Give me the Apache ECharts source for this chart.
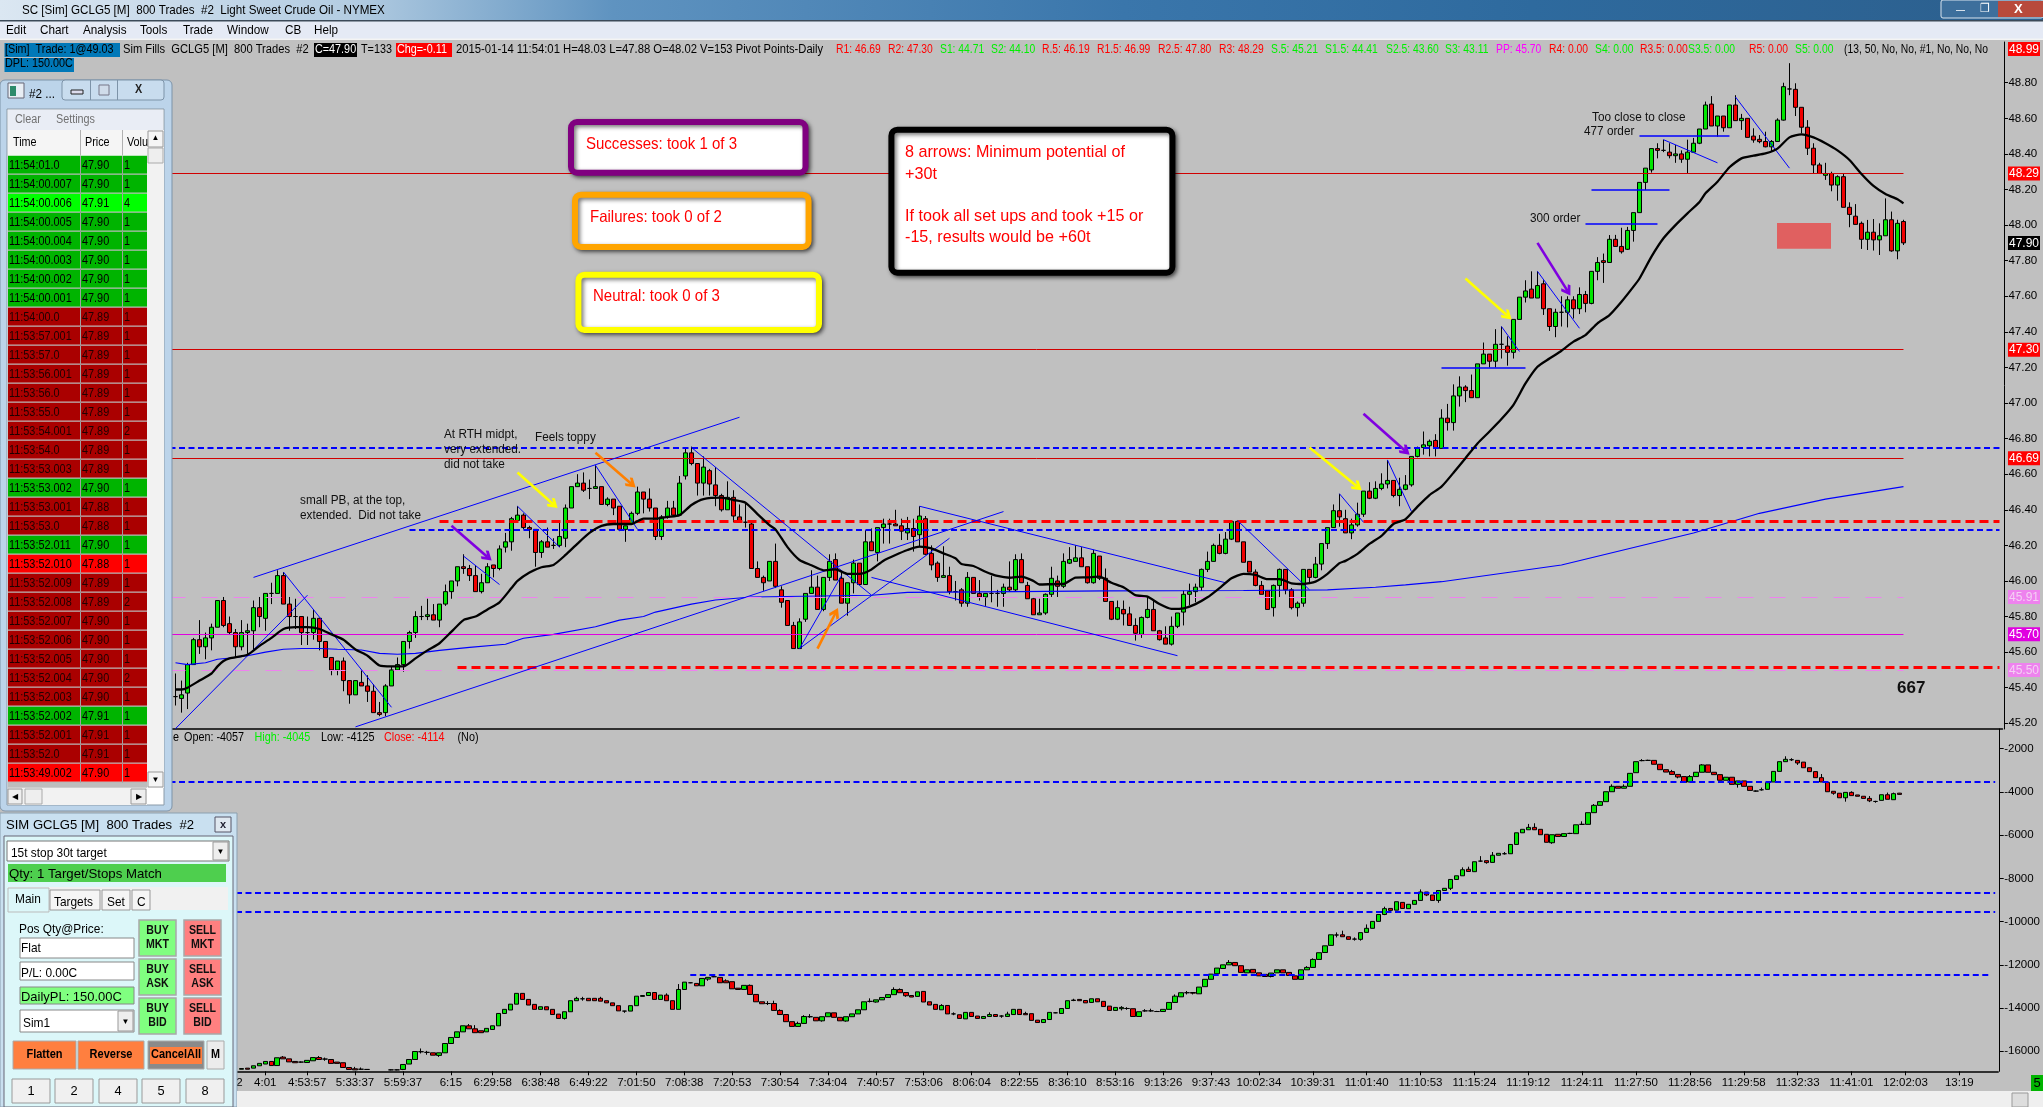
<!DOCTYPE html>
<html><head><meta charset="utf-8"><style>html,body{margin:0;padding:0;background:#c0c0c0;overflow:hidden}#c{width:2043px;height:1107px}</style>
<script src="https://cdn.jsdelivr.net/npm/echarts@6/dist/echarts.min.js"></script></head><body><div id="c"></div><script>
// ---- values ----
const tickIdx=[8,15,22,30,38,46,53,61,69,77,85,93,101,109,117,125,133,141,149,157,165,173,181,190,199,208,217,226,235,244,253,262,271,280,289,298];
const tickLabels=["3:42:12","4:01","4:53:57","5:33:37","5:59:37","6:15","6:29:58","6:38:48","6:49:22","7:01:50","7:08:38","7:20:53","7:30:54","7:34:04","7:40:57","7:53:06","8:06:04","8:22:55","8:36:10","8:53:16","9:13:26","9:37:43","10:02:34","10:39:31","11:01:40","11:10:53","11:15:24","11:19:12","11:24:11","11:27:50","11:28:56","11:29:58","11:32:33","11:41:01","12:02:03","13:19"];
const priceTicks=[45.2,45.4,45.6,45.8,46,46.2,46.4,46.6,46.8,47,47.2,47.4,47.6,47.8,48,48.2,48.4,48.6,48.8];
const pnlTicks=[-2000,-4000,-6000,-8000,-10000,-12000,-14000,-16000];
const priceTags=[48.99,48.29,47.90,47.30,46.69,45.91,45.70,45.50];
// rows: open, close, high, low
const priceBars=[
[45.35,45.35,45.48,45.30],[45.34,45.36,45.44,45.26],[45.37,45.53,45.54,45.28],[45.53,45.67,45.68,45.53],[45.67,45.63,45.78,45.59],[45.63,45.68,45.71,45.56],[45.68,45.74,45.76,45.61],[45.74,45.89,45.89,45.74],[45.89,45.75,45.91,45.74],[45.76,45.71,45.80,45.70],
[45.71,45.63,45.73,45.57],[45.63,45.71,45.78,45.61],[45.71,45.72,45.76,45.59],[45.72,45.85,45.89,45.61],[45.85,45.80,45.91,45.74],[45.79,45.93,45.93,45.72],[45.93,45.93,45.99,45.87],[45.93,46.03,46.06,45.93],[46.03,45.87,46.05,45.87],[45.87,45.80,45.91,45.72],
[45.80,45.80,45.90,45.73],[45.80,45.71,45.80,45.64],[45.71,45.71,45.80,45.64],[45.71,45.79,45.84,45.67],[45.79,45.66,45.79,45.61],[45.66,45.57,45.66,45.57],[45.57,45.50,45.57,45.47],[45.50,45.55,45.55,45.47],[45.55,45.44,45.57,45.38],[45.44,45.36,45.44,45.31],
[45.36,45.44,45.44,45.36],[45.43,45.41,45.50,45.41],[45.41,45.38,45.47,45.32],[45.38,45.26,45.42,45.26],[45.26,45.25,45.32,45.24],[45.26,45.41,45.42,45.24],[45.41,45.50,45.52,45.41],[45.50,45.53,45.57,45.50],[45.53,45.66,45.66,45.49],[45.66,45.71,45.72,45.62],
[45.71,45.80,45.83,45.68],[45.80,45.80,45.86,45.78],[45.80,45.81,45.90,45.78],[45.81,45.78,45.87,45.78],[45.78,45.87,45.87,45.74],[45.87,45.94,45.98,45.86],[45.94,46.00,46.00,45.90],[46.00,46.08,46.08,45.97],[46.08,46.07,46.15,46.04],[46.07,46.03,46.09,46.00],
[46.03,45.94,46.09,45.94],[45.94,45.99,46.04,45.93],[45.99,46.08,46.10,45.99],[46.09,46.07,46.09,46.02],[46.07,46.18,46.20,46.06],[46.19,46.22,46.27,46.16],[46.22,46.35,46.36,46.17],[46.34,46.37,46.42,46.34],[46.37,46.30,46.38,46.29],[46.30,46.29,46.31,46.24],
[46.29,46.16,46.29,46.08],[46.16,46.22,46.23,46.13],[46.22,46.19,46.30,46.19],[46.20,46.20,46.24,46.18],[46.20,46.25,46.33,46.19],[46.24,46.41,46.43,46.19],[46.41,46.53,46.53,46.41],[46.53,46.55,46.60,46.53],[46.55,46.51,46.61,46.50],[46.52,46.52,46.57,46.46],
[46.52,46.53,46.65,46.52],[46.53,46.43,46.53,46.43],[46.43,46.46,46.47,46.42],[46.46,46.41,46.46,46.37],[46.42,46.29,46.42,46.28],[46.29,46.31,46.31,46.22],[46.32,46.38,46.39,46.32],[46.38,46.50,46.53,46.37],[46.50,46.46,46.50,46.38],[46.46,46.41,46.52,46.39],
[46.41,46.25,46.41,46.23],[46.25,46.36,46.37,46.23],[46.36,46.41,46.45,46.35],[46.41,46.37,46.45,46.37],[46.37,46.55,46.59,46.37],[46.59,46.72,46.745,46.57],[46.72,46.66,46.755,46.65],[46.66,46.55,46.66,46.48],[46.55,46.64,46.70,46.48],[46.62,46.545,46.63,46.48],
[46.54,46.48,46.64,46.42],[46.48,46.40,46.49,46.39],[46.40,46.47,46.56,46.40],[46.47,46.365,46.51,46.33],[46.36,46.33,46.43,46.33],[46.33,46.33,46.44,46.30],[46.32,46.07,46.34,46.07],[46.07,46.02,46.11,46.02],[46.02,45.99,46.03,45.945],[46.00,46.11,46.11,46.00],
[46.11,45.97,46.21,45.96],[45.95,45.88,45.97,45.85],[45.89,45.75,45.89,45.75],[45.75,45.62,45.77,45.62],[45.62,45.77,45.79,45.62],[45.785,45.93,45.93,45.77],[45.93,45.965,46.06,45.93],[45.965,45.84,46.03,45.84],[45.84,46.02,46.02,45.83],[46.02,46.11,46.15,46.00],
[46.12,46.005,46.155,46.005],[46.015,45.875,46.05,45.875],[45.875,45.99,45.99,45.805],[45.99,46.10,46.12,45.93],[46.10,45.98,46.10,45.98],[45.98,46.22,46.285,45.98],[46.22,46.17,46.295,46.17],[46.16,46.30,46.30,46.11],[46.30,46.32,46.35,46.21],[46.32,46.32,46.35,46.21],
[46.32,46.31,46.40,46.31],[46.31,46.28,46.35,46.23],[46.27,46.295,46.36,46.23],[46.295,46.25,46.35,46.165],[46.26,46.365,46.42,46.19],[46.35,46.15,46.365,46.145],[46.155,46.09,46.20,46.06],[46.10,46.02,46.11,45.995],[46.02,46.03,46.195,46.02],[46.03,45.94,46.08,45.925],
[45.94,45.94,46.00,45.89],[45.95,45.875,45.96,45.855],[45.875,46.02,46.05,45.855],[46.02,45.93,46.02,45.93],[45.93,45.91,46.005,45.89],[45.91,45.93,45.93,45.86],[45.93,45.93,46.03,45.88],[45.93,45.93,45.95,45.855],[45.93,45.965,45.985,45.855],[45.965,45.95,46.11,45.94],
[45.95,46.12,46.15,45.94],[46.12,45.99,46.155,45.99],[45.975,45.90,45.995,45.90],[45.90,45.81,45.905,45.81],[45.81,45.82,45.90,45.81],[45.82,45.925,45.93,45.81],[45.925,46.015,46.08,45.91],[46.00,45.97,46.03,45.91],[45.97,46.11,46.155,45.96],[46.10,46.12,46.19,46.095],
[46.11,46.13,46.20,46.11],[46.13,46.08,46.19,46.08],[46.08,45.99,46.08,45.985],[45.99,46.155,46.175,45.985],[46.14,46.015,46.14,46.005],[46.015,45.885,46.07,45.885],[45.885,45.785,45.885,45.78],[45.785,45.85,45.89,45.78],[45.84,45.815,45.89,45.75],[45.815,45.75,45.855,45.75],
[45.75,45.706,45.79,45.665],[45.70,45.795,45.80,45.68],[45.795,45.84,45.91,45.79],[45.84,45.72,45.89,45.72],[45.72,45.67,45.725,45.665],[45.68,45.645,45.745,45.645],[45.645,45.745,45.80,45.637],[45.745,45.82,45.82,45.735],[45.825,45.925,45.945,45.75],[45.925,45.94,45.985,45.865],
[45.94,45.965,45.985,45.88],[45.965,46.065,46.07,45.945],[46.065,46.11,46.165,46.05],[46.11,46.20,46.21,46.11],[46.20,46.155,46.265,46.15],[46.155,46.235,46.275,46.15],[46.235,46.335,46.34,46.23],[46.335,46.22,46.34,46.22],[46.22,46.105,46.22,46.105],[46.11,46.05,46.11,46.05],
[46.05,45.975,46.065,45.97],[45.975,45.925,46.00,45.925],[45.945,45.84,45.945,45.84],[45.85,45.975,45.98,45.80],[45.975,46.065,46.07,45.91],[46.065,45.95,46.065,45.925],[45.95,45.85,45.96,45.84],[45.85,45.875,45.885,45.80],[45.875,46.065,46.065,45.855],[46.065,46.02,46.065,45.99],
[46.02,46.095,46.135,46.015],[46.095,46.21,46.21,46.06],[46.21,46.30,46.30,46.18],[46.30,46.395,46.43,46.30],[46.395,46.36,46.49,46.305],[46.35,46.27,46.40,46.27],[46.27,46.315,46.35,46.235],[46.315,46.375,46.44,46.305],[46.375,46.505,46.505,46.36],[46.505,46.465,46.555,46.46],
[46.465,46.52,46.56,46.46],[46.52,46.545,46.605,46.51],[46.545,46.565,46.68,46.52],[46.565,46.48,46.565,46.47],[46.48,46.515,46.58,46.42],[46.515,46.54,46.595,46.51],[46.54,46.70,46.70,46.53],[46.70,46.75,46.755,46.695],[46.75,46.765,46.84,46.71],[46.76,46.785,46.795,46.70],
[46.79,46.75,46.825,46.70],[46.745,46.915,46.965,46.745],[46.915,46.89,46.995,46.845],[46.89,47.04,47.105,46.845],[47.04,47.09,47.15,46.98],[47.09,47.07,47.10,47.005],[47.07,47.03,47.16,47.03],[47.03,47.22,47.22,47.03],[47.22,47.275,47.34,47.22],[47.275,47.235,47.275,47.20],
[47.235,47.33,47.415,47.20],[47.33,47.33,47.43,47.25],[47.32,47.285,47.375,47.21],[47.285,47.47,47.47,47.25],[47.47,47.595,47.595,47.47],[47.595,47.63,47.69,47.565],[47.64,47.59,47.74,47.59],[47.59,47.66,47.74,47.59],[47.67,47.53,47.69,47.495],[47.53,47.43,47.53,47.405],
[47.43,47.51,47.53,47.37],[47.51,47.51,47.60,47.43],[47.51,47.58,47.60,47.425],[47.58,47.53,47.60,47.475],[47.53,47.61,47.65,47.50],[47.61,47.56,47.63,47.51],[47.56,47.74,47.74,47.555],[47.74,47.79,47.82,47.69],[47.80,47.79,47.84,47.675],[47.79,47.92,47.944,47.79],
[47.92,47.88,47.945,47.88],[47.88,47.85,47.985,47.84],[47.864,47.97,47.99,47.86],[47.97,48.07,48.07,47.907],[48.07,48.24,48.24,48.07],[48.24,48.32,48.32,48.197],[48.31,48.43,48.43,48.295],[48.43,48.42,48.46,48.375],[48.42,48.42,48.48,48.41],[48.41,48.39,48.46,48.375],
[48.39,48.40,48.45,48.35],[48.40,48.37,48.42,48.35],[48.37,48.41,48.48,48.29],[48.41,48.46,48.49,48.41],[48.46,48.54,48.54,48.455],[48.54,48.675,48.694,48.54],[48.68,48.557,48.725,48.557],[48.557,48.613,48.613,48.497],[48.613,48.547,48.613,48.525],[48.547,48.675,48.675,48.547],
[48.675,48.587,48.73,48.587],[48.587,48.60,48.625,48.535],[48.60,48.493,48.60,48.493],[48.50,48.478,48.544,48.463],[48.482,48.469,48.506,48.46],[48.47,48.44,48.525,48.437],[48.44,48.47,48.478,48.413],[48.47,48.59,48.60,48.47],[48.59,48.778,48.80,48.587],[48.765,48.765,48.91,48.73],
[48.763,48.662,48.797,48.613],[48.662,48.55,48.662,48.516],[48.55,48.432,48.59,48.394],[48.432,48.338,48.46,48.29],[48.338,48.29,48.35,48.287],[48.28,48.29,48.35,48.254],[48.29,48.225,48.30,48.19],[48.225,48.272,48.28,48.137],[48.272,48.10,48.287,48.10],[48.10,48.06,48.128,47.988],
[48.05,48.004,48.118,48.004],[48.01,47.92,48.02,47.866],[47.92,47.96,48.029,47.86],[47.96,47.917,48.034,47.857],[47.917,47.94,48.01,47.832],[47.94,48.03,48.15,47.94],[48.03,47.855,48.076,47.85],[47.855,48.01,48.03,47.808],[48.02,47.90,48.03,47.888]];
// rows: open, close, optional high, optional low; null where hidden by the order window or off scale
const pnlBars=[null,null,null,null,null,null,null,null,null,null,null,
[-16830,-16800],[-16780,-16830],[-16780,-16670],[-16670,-16560],[-16590,-16470],[-16470,-16660],[-16660,-16300],[-16270,-16350,-16220],[-16350,-16490],[-16470,-16530],
[-16500,-16500,-16470,-16530],[-16520,-16420],[-16440,-16290],[-16290,-16380,-16220],[-16360,-16360,-16290,-16440],[-16380,-16560],[-16500,-16560],[-16530,-16750],[-16750,-16840],[-16810,-16860,-16720],
[-16830,-16830,-16750,-16860],[-16840,-16840,-16820,-16860],null,null,null,[-16860,-16860,-16840,-16880],[-16860,-16860,-16840,-16880],[-16840,-16610,null,-16870],[-16590,-16380],[-16380,-16010],
[-16020,-16020,-15870,-16100],[-16050,-16050,-15980,-16160],[-16070,-16180],[-16190,-16070,null,-16260],[-16070,-15640],[-15640,-15360],[-15360,-15100],[-15100,-14820],[-14820,-14960,-14740],[-14960,-15140,-14790],
[-15050,-15140],[-15100,-14940],[-14990,-14820],[-14820,-14250],[-14250,-14060],[-14090,-13820],[-13820,-13320],[-13320,-13600],[-13600,-13860],[-13830,-14060],
[-14060,-13940],[-13940,-14080],[-14060,-14300],[-14280,-14480],[-14480,-14170,null,-14530],[-14170,-13660],[-13660,-13550,-13480],[-13570,-13570,-13480,-13660],[-13550,-13660],[-13550,-13660],
[-13550,-13680,-13480],[-13660,-13760],[-13760,-13890],[-13890,-14130],[-14140,-14140,-14130,-14220],[-14140,-13890],[-13890,-13450],[-13460,-13420],[-13420,-13280],[-13280,-13600],
[-13600,-13400],[-13400,-13660,-13320],[-13660,-14060],[-14060,-13140,-12890],[-13140,-12800],[-12830,-12830,-12810,-12850],[-12860,-12970],[-12970,-12630],[-12660,-12580,null,-12740],[-12550,-12550,-12510,-12570],
[-12580,-12830],[-12740,-12830,-12670],[-12780,-13110],[-13080,-13140],[-13140,-12950],[-12950,-13370,-12910],[-13370,-13710],[-13710,-13800],[-13790,-13790,-13680,-13860],[-13790,-14110,-13660],
[-14110,-14300,-14060],[-14300,-14630],[-14630,-14850],[-14850,-14710,-14630],[-14710,-14390,-14330],[-14400,-14400,-14280,-14450],[-14430,-14590],[-14590,-14400,null,-14630],[-14400,-14220],[-14220,-14430],
[-14430,-14590],[-14600,-14400,null,-14630],[-14400,-14270],[-14270,-14080],[-14080,-13710],[-13690,-13690,-13550,-13740],[-13720,-13620,null,-13750],[-13620,-13510],[-13510,-13380],[-13380,-13140,-13040],
[-13140,-13290,-13090],[-13280,-13430,null,-13480],[-13420,-13490],[-13460,-13250],[-13230,-13720],[-13710,-13860],[-13830,-14060],[-14080,-13880,-13820],[-13880,-14270],[-14270,-14270,-14200,-14330],
[-14310,-14480],[-14500,-14200],[-14200,-14390],[-14370,-14480],[-14480,-14390],[-14390,-14300,-14200],[-14300,-14390],[-14370,-14370,-14330,-14450],[-14390,-14280,-14170],[-14300,-14060],
[-14060,-14300],[-14250,-14310,-14170],[-14260,-14570],[-14560,-14670],[-14670,-14530],[-14530,-14200],[-14220,-14220,-14200,-14240],[-14250,-14020],[-14020,-13660],[-13650,-13630,-13570,-13680],
[-13600,-13660],[-13650,-13760],[-13740,-13570],[-13570,-13710],[-13690,-13930],[-13910,-14110],[-14110,-13970],[-14030,-13970,-13910,-14110],[-14020,-14020,-13960,-14080],[-14030,-14390],
[-14390,-14170],[-14130,-14130,-14050,-14170],[-14130,-14130,-14030,-14170],[-14160,-14160,-14130,-14180],[-14160,-14060],[-14060,-13740],[-13740,-13450,-13370],[-13480,-13290],[-13290,-13290,-13210,-13370],[-13280,-13310,null,-13370],
[-13340,-13030],[-13010,-12670],[-12670,-12430],[-12410,-12150],[-12170,-12000],[-12000,-11890,-11780],[-11890,-12040],[-12040,-12350],[-12370,-12230],[-12210,-12370],
[-12370,-12510],[-12440,-12540],[-12540,-12380,null,-12580],[-12370,-12230],[-12230,-12370],[-12350,-12490],[-12510,-12670],[-12670,-12230],[-12230,-12120,-12060],[-12120,-11750,-11700],
[-11750,-11440],[-11430,-11120],[-11100,-10610],[-10620,-10620,-10500,-10730],[-10610,-10700,-10420],[-10700,-10820],[-10810,-10810,-10730,-10880],[-10820,-10510,null,-10880],[-10500,-10310,-10130],[-10310,-9990],
[-9990,-9670],[-9670,-9400,-9310,-9700],[-9390,-9480],[-9470,-9080],[-9110,-9390],[-9400,-9200],[-9200,-9020],[-9020,-8630,-8510],[-8630,-8770,null,-8820],[-8770,-9020],
[-9020,-8560,null,-9130],[-8560,-8460],[-8460,-8050,null,-8540],[-8050,-7880],[-7880,-7600,-7490],[-7580,-7680,-7460],[-7690,-7230],[-7200,-7200,-6970,-7240],[-7180,-7270,null,-7320],[-7260,-6930,-6780],
[-6930,-6840],[-6860,-6860,-6780,-6900],[-6860,-6430],[-6430,-5890],[-5890,-5730],[-5750,-5640,-5480],[-5640,-5750,-5450],[-5730,-5980],[-5960,-6330],[-6350,-5980,null,-6400],
[-5960,-6060],[-6060,-5930],[-5920,-5920,-5890,-5950],[-5930,-5520],[-5500,-5500,-5360,-5530],[-5500,-4960],[-4960,-4620,-4560],[-4620,-4450],[-4450,-3990],[-3990,-3740,-3650],
[-3740,-3830],[-3830,-3740,-3650],[-3740,-3140],[-3110,-2600],[-2550,-2550,-2480,-2580],[-2540,-2540,-2510,-2560],[-2540,-2720],[-2720,-2970],[-2970,-3080],[-3060,-3190,-2980],
[-3190,-3310,null,-3370],[-3290,-3560],[-3540,-3290,-3220],[-3290,-3090],[-3090,-2750,-2710],[-2750,-3090],[-3090,-3200],[-3200,-3460],[-3460,-3320],[-3320,-3650],
[-3650,-3490,null,-3800],[-3490,-3740],[-3740,-3930],[-3960,-3960,-3930,-3990],[-3900,-3900,-3800,-3940],[-3880,-3570],[-3540,-3050],[-3050,-2600],[-2600,-2490,-2350],[-2510,-2510,-2440,-2570],
[-2540,-2660,null,-2750],[-2620,-2880],[-2880,-3060],[-3060,-3340],[-3340,-3540,-3170],[-3560,-3990],[-3970,-4060,null,-4130],[-4060,-4270],[-4270,-4020,null,-4450],[-4020,-4170,-3970],
[-4140,-4200],[-4200,-4300],[-4300,-4410,-4190,-4470],[-4440,-4440,-4410,-4500],[-4390,-4130],[-4130,-4340,-4030],[-4360,-4080,-4030],[-4057,-4114,-4045,-4125]];
// moving averages: bar index, price
const fastAvg=[[0,45.39],[1,45.39],[2,45.40],[4,45.44],[6,45.48],[7,45.52],[8,45.55],[9,45.565],[12,45.585],[14,45.635],[16,45.68],[18,45.73],[20,45.74],[22,45.74],[24,45.73],[26,45.70],[28,45.67],[30,45.615],[32,45.58],[34,45.525],[36,45.52],[38,45.52],[40,45.565],[42,45.61],[44,45.65],[46,45.715],[48,45.78],[50,45.80],[52,45.84],[54,45.88],[56,45.96],[57,46.00],[59,46.047],[61,46.077],[63,46.09],[65,46.146],[67,46.21],[69,46.27],[71,46.31],[73,46.32],[76,46.32],[78,46.35],[80,46.35],[82,46.36],[84,46.37],[86,46.427],[88,46.46],[91,46.468],[93,46.455],[95,46.44],[97,46.376],[99,46.314],[100,46.29],[102,46.19],[104,46.118],[106,46.088],[108,46.06],[110,46.065],[112,46.04],[114,46.04],[116,46.065],[118,46.114],[120,46.146],[122,46.174],[124,46.193],[126,46.183],[128,46.155],[130,46.127],[131,46.095],[133,46.084],[135,46.052],[137,46.028],[139,46.018],[141,46.024],[143,46.00],[144,45.98],[147,45.983],[148,45.983],[150,46.019],[152,46.02],[154,46.024],[156,45.99],[158,45.965],[160,45.92],[162,45.912],[164,45.87],[166,45.843],[168,45.846],[170,45.87],[172,45.908],[174,45.96],[176,46.015],[178,46.04],[180,46.034],[182,46.01],[184,46.01],[186,45.987],[188,45.983],[190,45.996],[192,46.04],[194,46.10],[195,46.113],[197,46.152],[199,46.208],[201,46.253],[203,46.32],[205,46.347],[207,46.418],[209,46.483],[211,46.53],[213,46.608],[215,46.69],[217,46.773],[219,46.84],[221,46.91],[223,46.99],[225,47.11],[227,47.204],[229,47.25],[231,47.294],[233,47.345],[235,47.382],[237,47.448],[239,47.494],[241,47.569],[243,47.654],[244,47.70],[246,47.823],[248,47.926],[250,48.00],[252,48.066],[254,48.13],[255,48.179],[257,48.244],[259,48.325],[261,48.375],[263,48.39],[265,48.403],[267,48.43],[269,48.493],[271,48.51],[273,48.493],[275,48.46],[277,48.42],[279,48.366],[281,48.287],[283,48.22],[285,48.175],[287,48.145],[288,48.122]];
const slowAvg=[[0,45.54],[2,45.53],[5,45.54],[7,45.56],[10,45.57],[12,45.58],[15,45.60],[18,45.616],[21,45.62],[24,45.62],[27,45.616],[31,45.612],[34,45.593],[37,45.588],[40,45.593],[44,45.61],[49,45.627],[55,45.644],[58,45.678],[63,45.70],[70,45.743],[74,45.78],[78,45.80],[80,45.825],[86,45.87],[90,45.893],[96,45.91],[116,45.92],[122,45.936],[140,45.94],[155,45.944],[178,45.946],[192,45.95],[200,45.965],[205,45.978],[211,45.996],[231,46.09],[253,46.27],[264,46.38],[275,46.46],[288,46.53]];
// horizontal levels: price, first bar, last bar (-1 = left of the first bar)
const redLevels=[[48.29,-1,288],[47.30,-1,288],[46.69,-1,288]];
const magentaLevels=[[45.70,-1,288]];
const pinkLevels=[[45.91,-1,288],[45.50,-1,288]];
const blueDashLevels=[[46.75,-1,304],[46.29,39,304]];
const redDashLevels=[[46.335,44,304],[45.515,47,304]];
const orderLevels=[[48.50,244,259],[48.20,236,249],[48.005,235,247],[47.20,211,225]];
const pnlLevels=[[-3541,-1,304],[-8680,-1,304],[-9560,-1,304],[-12475,86,303]];
// drawn lines: bar, price, bar, price
const trendLines=[[13,46.02,94,46.92],[30,45.18,138,46.39],[0,45.17,22,45.92],[18,46.05,36,45.29],[48,46.14,54,45.98],[57,46.42,64,46.19],[70,46.65,77,46.29],[86,46.75,116,45.92],[104,45.62,111,46.03],[104,45.62,129,46.24],[124,46.42,175,45.99],[116,46.02,167,45.58],[177,46.34,189,45.95],[194,46.49,198,46.33],[202,46.68,206,46.39],[221,47.43,224,47.29],[227,47.74,234,47.42],[248,48.48,257,48.35],[260,48.72,269,48.32]];
const purpleArrows=[[46,46.31,52,46.135],[198,46.94,205,46.73],[227,47.90,232,47.63]];
const yellowArrows=[[57,46.61,63,46.43],[189,46.75,197,46.53],[215,47.70,222,47.49]];
const orangeArrows=[[70,46.72,76,46.545],[107,45.62,110,45.82]];
const tradeTimes=["11:54:01.0","11:54:00.007","11:54:00.006","11:54:00.005","11:54:00.004","11:54:00.003","11:54:00.002","11:54:00.001","11:54:00.0","11:53:57.001","11:53:57.0","11:53:56.001","11:53:56.0","11:53:55.0","11:53:54.001","11:53:54.0","11:53:53.003","11:53:53.002","11:53:53.001","11:53:53.0","11:53:52.011","11:53:52.010","11:53:52.009","11:53:52.008","11:53:52.007","11:53:52.006","11:53:52.005","11:53:52.004","11:53:52.003","11:53:52.002","11:53:52.001","11:53:52.0","11:53:49.002"];
const tradePrices=["47.90","47.90","47.91","47.90","47.90","47.90","47.90","47.90","47.89","47.89","47.89","47.89","47.89","47.89","47.89","47.89","47.89","47.90","47.88","47.88","47.90","47.88","47.89","47.89","47.90","47.90","47.90","47.90","47.90","47.91","47.91","47.91","47.90"];
const tradeVols=["1","1","4","1","1","1","1","1","1","1","1","1","1","1","2","1","1","1","1","1","1","1","1","2","1","1","1","2","1","1","1","1","1"];
const tradeColors=["g","g","G","g","g","g","g","g","d","d","d","d","d","d","d","d","d","g","d","d","g","R","d","d","d","d","d","d","d","g","d","d","R"];
// ---- layout ----
const FONT='"Liberation Sans",Arial,sans-serif';
const OFF=1, nCat=306;
const categories=Array.from({length:nCat},(_,i)=>{const k=tickIdx.indexOf(i-OFF);return k<0?'':tickLabels[k];});
const BLANK=['-','-','-','-'];
const priceData=[BLANK].concat(priceBars.map(r=>[r[0],r[1],r[3],r[2]]));
const pnlData=[BLANK].concat(pnlBars.map(r=>{ if(!r) return BLANK;
  const hi=r[2]==null?Math.max(r[0],r[1]):r[2], lo=r[3]==null?Math.min(r[0],r[1]):r[3]; return [r[0],r[1],lo,hi];}));
const candleStyle={color:'#00e600',color0:'#f00000',borderColor:'#000',borderColor0:'#000',borderColorDoji:'#000',borderWidth:1};
const shift=list=>list.map(a=>[a[0]+OFF,a[1]]);
function seg(list){return list.map(a=>[{coord:[a[0]+OFF,a[1]]},{coord:[a[2]+OFF,a[3]]}]);}
function lev(list){return list.map(a=>[{coord:[a[1]+OFF,a[0]]},{coord:[a[2]+OFF,a[0]]}]);}
function marks(name,data,ls,axis,sym){return {name,type:'line',data:[],xAxisIndex:axis,yAxisIndex:axis==0?0:2,silent:true,
  markLine:{silent:true,animation:false,symbol:sym||'none',symbolSize:sym?11:0,label:{show:false},emphasis:{disabled:true},lineStyle:ls,data}};}
const chev='path://M-10,11 L0,0 L10,11 L7,14 L0,7 L-7,14 Z';
function arrows(name,list,color){return marks(name,seg(list),{color,width:2.6,type:'solid'},0,['none',chev]);}
// ---- window furniture, drawn as graphic elements ----
const g=[];
function rect(x,y,w,h,fill,o){o=o||{};g.push({type:'rect',silent:true,z:o.z||100,shape:{x,y,width:w,height:h,r:o.r||0},style:{fill,stroke:o.stroke||null,lineWidth:o.lw||0,shadowBlur:o.sb||0,shadowColor:o.sc||'transparent',shadowOffsetX:o.sx||0,shadowOffsetY:o.sy||0}});}
function txt(x,y,s,fill,o){o=o||{};g.push({type:'text',silent:true,z:(o.z||101),x,y,scaleX:o.scale||0.9,style:{text:s,fill:fill||'#000',font:(o.bold?'bold ':'')+(o.size||12)+'px '+FONT,textAlign:o.align||'left',textVerticalAlign:'middle'}});}
// title and menu
rect(0,0,2043,21,{type:'linear',x:0,y:0,x2:1,y2:0,colorStops:[{offset:0,color:'#dbe7f2'},{offset:.17,color:'#b4cde2'},{offset:.3,color:'#5f93c0'},{offset:.55,color:'#3a76ab'},{offset:.75,color:'#2e6a9e'},{offset:1,color:'#2c5f8d'}]});
txt(22,10,'SC [Sim] GCLG5 [M]  800 Trades  #2  Light Sweet Crude Oil - NYMEX','#000',{size:13.5,scale:.86});
rect(0,21,2043,19,'#e5eaf5');rect(0,20,2043,1.5,'#3c4a58');rect(0,38.5,2043,1.5,'#f4f4f4');
['Edit','Chart','Analysis','Tools','Trade','Window','CB','Help'].forEach((t,i)=>txt([6,40,83,140,183,227,285,314][i],30,t,'#000',{size:13}));
rect(1941,0,102,18,'#3d6f9c',{r:2,stroke:'#d8e4ee',lw:1});rect(1998,1,45,16,'#b84a3c');
txt(1956,10,'—','#fff',{size:10});txt(1980,9,'❐','#fff',{size:12});txt(2014,9,'X','#fff',{size:13,bold:true,scale:1});
// header line
rect(4.5,43,115.5,14,'#0078b8');rect(4.5,58,69.5,14,'#0078b8');rect(314,43,43,14,'#000');rect(396,43,56,14,'#ff0000');
txt(5,50,'[Sim]  Trade: 1@49.03','#000');txt(123,50,'Sim Fills  GCLG5 [M]  800 Trades  #2','#000',{scale:.93});txt(315,50,'C=47.90','#fff');txt(361,50,'T=133','#000');txt(397,50,'Chg=-0.11','#fff');
txt(456,50,'2015-01-14 11:54:01 H=48.03 L=47.88 O=48.02','#000',{scale:.94});txt(700,50,'V=153 Pivot Points-Daily','#000',{scale:.93});txt(5,64,'DPL: 150.00C','#000');
const RED='#ff0000',GRN='#00f000';
[[836,'R1: 46.69',RED],[888,'R2: 47.30',RED],[940,'S1: 44.71',GRN],[991,'S2: 44.10',GRN],[1042,'R.5: 46.19',RED],[1097,'R1.5: 46.99',RED],[1158,'R2.5: 47.80',RED],[1219,'R3: 48.29',RED],[1271,'S.5: 45.21',GRN],[1325,'S1.5: 44.41',GRN],[1386,'S2.5: 43.60',GRN],[1445,'S3: 43.11',GRN],[1496,'PP: 45.70','#ff00ff'],[1549,'R4: 0.00',RED],[1595,'S4: 0.00',GRN],[1640,'R3.5: 0.00',RED],[1688,'S3.5: 0.00',GRN],[1749,'R5: 0.00',RED],[1795,'S5: 0.00',GRN],[1844,'(13, 50, No, No, #1, No, No, No','#000']].forEach(a=>txt(a[0],50,a[1],a[2],{scale:.86}));
// lower study line
txt(173,737.5,'e','#000');txt(184,737.5,'Open: -4057','#000');txt(254.5,737.5,'High: -4045','#00f000');txt(321,737.5,'Low: -4125','#000');txt(384,737.5,'Close: -4114',RED);txt(457.5,737.5,'(No)','#000');
// callout boxes
function box(x,y,w,h,col){rect(x+3,y+3,w-6,h-6,'#fff',{stroke:col,lw:6,r:6,sb:4,sc:'rgba(0,0,0,.55)',sx:2,sy:2});}
const BX={size:16.5,scale:.91},BK={size:17,scale:.95};
box(568,119,240.5,56.7,'#800080');txt(586,144,'Successes: took 1 of 3',RED,BX);
box(572,191.7,239.6,58.3,'#ffa500');txt(590,217,'Failures: took 0 of 2',RED,BX);
box(575.4,271.7,246.6,61.3,'#ffff00');txt(593,296.5,'Neutral: took 0 of 3',RED,BX);
box(888.4,126.7,287,149,'#000');
[[152,'8 arrows: Minimum potential of'],[174,'+30t'],[216,'If took all set ups and took +15 or'],[237,'-15, results would be +60t']].forEach(a=>txt(905,a[0],a[1],RED,BK));
// chart notes
const NT={size:12,scale:.98,z:60};
txt(300,501,'small PB, at the top,','#101010',NT);txt(300,516,'extended.  Did not take','#101010',NT);
txt(444,435,'At RTH midpt,','#101010',NT);txt(444,450,'very extended.','#101010',NT);txt(444,465,'did not take','#101010',NT);txt(535,438,'Feels toppy','#101010',NT);
txt(1592,118,'Too close to close','#101010',NT);txt(1584,132,'477 order','#101010',NT);txt(1530,219,'300 order','#101010',NT);
txt(1897,688,'667','#101010',{size:17,bold:true,scale:1,z:60});
rect(1777,223,54,25.7,'#e06060',{z:60});
// price-tape window
rect(0,80,172,731,'#bcd4ea',{r:5,stroke:'#7d93a8',lw:1});
rect(7,109,157,696,'#fff',{stroke:'#8a9aa8',lw:1});
rect(62,80,102,20,'#c8dcee',{r:3,stroke:'#7d93a8',lw:1});rect(90,80,1,20,'#7d93a8');rect(117,80,1,20,'#7d93a8');
rect(8,83,16,15,'#e8eef4',{stroke:'#667',lw:1});rect(10,86,6,10,'#2d8a6a');
txt(29,94,'#2 ...','#000',{size:13});rect(71,90,12,4,'#dde',{stroke:'#222',lw:1});rect(99,85,10,10,'#d0dcea',{stroke:'#778',lw:1});txt(135,90,'X','#222',{size:12,bold:true});
rect(8,110,155,20,'#e9edf5');txt(15,120,'Clear','#707070');txt(56,120,'Settings','#707070');
rect(8,130,139,25.5,'#f5f5f5');rect(80,130,1,25,'#b0b0b0');rect(122,130,1,25,'#b0b0b0');
txt(13,143,'Time','#000');txt(85,143,'Price','#000');txt(127,143,'Volu','#000');
const rowFill={g:'#00b400',G:'#00ff00',d:'#aa0000',R:'#ff0000'};
tradeTimes.forEach((t,i)=>{const y=155.7+19*i,c=rowFill[tradeColors[i]];
  rect(8,y,139,18,c);rect(8,y+18,139,1,'#a0a0a0');rect(80,y,1,19,'#a0a0a0');rect(122,y,1,19,'#a0a0a0');
  const cc=(tradeColors[i]=='d')?'#200000':'#000';
  txt(9,y+9.5,t,cc,{size:12.5,scale:.87});txt(82,y+9.5,tradePrices[i],cc,{size:12.5,scale:.87});txt(124,y+9.5,tradeVols[i],cc,{size:12.5,scale:.87});});
rect(8,782.7,139,5,'#bdbdbd');
rect(147,130,17,658,'#f2f2f2');rect(148,131,15,16,'#f5f5f5',{stroke:'#999',lw:1});txt(155.5,138,'▲','#000',{size:8,align:'center',scale:1});rect(148,148,15,15,'#eee',{stroke:'#aaa',lw:1});
rect(148,772,15,15,'#f5f5f5',{stroke:'#999',lw:1});txt(155.5,780,'▼','#000',{size:8,align:'center',scale:1});
rect(8,788,139,17,'#f2f2f2');rect(8,789,14,15,'#eee',{stroke:'#999',lw:1});txt(15,797,'◀','#000',{size:8,align:'center',scale:1});rect(25,789,17,15,'#eee',{stroke:'#aaa',lw:1});rect(131,789,15,15,'#eee',{stroke:'#999',lw:1});txt(138.5,797,'▶','#000',{size:8,align:'center',scale:1});
// order window
rect(0,813,237,294,'#c9e0f0',{stroke:'#8ba0b0',lw:1});
txt(6,825,'SIM GCLG5 [M]  800 Trades  #2','#000',{size:13.5,scale:.97});
rect(215,817,16,15,'#dfe8f0',{stroke:'#556',lw:1});txt(223,825,'x','#223',{size:11,bold:true,align:'center',scale:1});
rect(4,836,229,271,'#dcf7f9',{stroke:'#667',lw:1});
rect(7,841,222,20,'#fff',{stroke:'#777',lw:1});txt(11,853,'15t stop 30t target','#000',{size:13.5,scale:.88});rect(213,842,15,18,'#eee',{stroke:'#999',lw:1});txt(220.5,852,'▼','#000',{size:8,align:'center',scale:1});
rect(8,864,218,18,'#4ecf4e');txt(9,874,'Qty: 1 Target/Stops Match','#000',{size:13.5,scale:.98});
rect(8,887,220,23,'#f1f1f1');rect(8,888,41,24,'#dcf7f9',{stroke:'#bbb',lw:1});rect(50,890,50,20,'#f5f5f5',{stroke:'#999',lw:1});rect(102,890,28,20,'#f5f5f5',{stroke:'#999',lw:1});rect(132,890,18,20,'#f5f5f5',{stroke:'#999',lw:1});
txt(15,899,'Main','#000',{size:13.5,scale:.88});txt(54,902,'Targets','#000',{size:13.5,scale:.88});txt(107,902,'Set','#000',{size:13.5,scale:.88});txt(137,902,'C','#000',{size:13.5,scale:.88});
txt(19,929,'Pos Qty@Price:','#000',{size:13.5,scale:.88});
rect(20,938,114,20,'#fff',{stroke:'#888',lw:1});txt(21,948,'Flat','#000',{size:13.5,scale:.88});
rect(20,962,114,18,'#fff',{stroke:'#888',lw:1});txt(21,973,'P/L: 0.00C','#000',{size:13.5,scale:.88});
rect(20,987,114,17,'#80ff80',{stroke:'#888',lw:1});txt(21,997,'DailyPL: 150.00C','#000',{size:13.5,scale:.96});
rect(20,1010,114,22,'#fff',{stroke:'#888',lw:1});txt(23,1023,'Sim1','#000',{size:13.5,scale:.88});rect(118,1011,15,20,'#eee',{stroke:'#999',lw:1});txt(125.5,1022,'▼','#000',{size:8,align:'center',scale:1});
[['BUY','MKT',139,920,'#80ff80'],['SELL','MKT',184,920,'#ff8080'],['BUY','ASK',139,959,'#80ff80'],['SELL','ASK',184,959,'#ff8080'],['BUY','BID',139,998,'#80ff80'],['SELL','BID',184,998,'#ff8080']].forEach(b=>{
  rect(b[2],b[3],37,36,b[4],{stroke:'#a8a8a8',lw:1.5});txt(b[2]+18.5,b[3]+11,b[0],'#101010',{size:12.5,bold:true,align:'center',scale:.85});txt(b[2]+18.5,b[3]+25,b[1],'#101010',{size:12.5,bold:true,align:'center',scale:.85});});
rect(13,1041,63,28,'#ff7f3f',{stroke:'#aaa',lw:1});txt(44.5,1055,'Flatten','#000',{size:12.5,bold:true,align:'center',scale:.88});
rect(78,1041,66,28,'#ff7f3f',{stroke:'#aaa',lw:1});txt(111,1055,'Reverse','#000',{size:12.5,bold:true,align:'center',scale:.88});
rect(148,1041,56,28,'#8a8a8a',{stroke:'#aaa',lw:1});rect(150,1047,52,17,'#ff7f3f');txt(176,1055,'CancelAll','#000',{size:12.5,bold:true,align:'center',scale:.88});
rect(207,1041,17,28,'#ececec',{stroke:'#aaa',lw:1});txt(215.5,1055,'M','#000',{size:12,bold:true,align:'center',scale:.9});
[['1',12],['2',55],['4',99],['5',142],['8',186]].forEach(b=>{rect(b[1],1079,38,24,'#f0f0f0',{stroke:'#999',lw:1});txt(b[1]+19,1091.5,b[0],'#000',{size:13.5,align:'center',scale:.95});});
// status strip
rect(237,1091,1806,16,'#efefef');rect(2031,1075,12,16,'#00b400');txt(2037,1083,'5','#000',{size:13,align:'center',scale:1});rect(2012,1093,16,14,'#ddd',{stroke:'#999',lw:1});
// ---- chart ----
const chart=echarts.init(document.getElementById('c'));
const lblBase={color:'#000',fontFamily:FONT,fontSize:11.5};
function isTick(i,v){return v!=='';}
const tagStyle=c=>({backgroundColor:c,color:'#fff',padding:[1.5,1,0.5,1],fontFamily:FONT,fontSize:12});
const option={animation:false,backgroundColor:'#c0c0c0',
 grid:[{left:166.5,width:1836,top:42,height:687},{left:166.5,width:1836,top:729,height:342.3}],
 xAxis:[
  {type:'category',gridIndex:0,data:categories,boundaryGap:true,axisLine:{onZero:false,lineStyle:{color:'#000',width:1.5}},axisTick:{show:false},axisLabel:{show:false},splitLine:{show:false}},
  {type:'category',gridIndex:1,data:categories,boundaryGap:true,axisLine:{onZero:false,lineStyle:{color:'#000',width:1.5}},axisTick:{show:true,alignWithLabel:true,length:4,interval:isTick,lineStyle:{color:'#000'}},axisLabel:Object.assign({interval:isTick,margin:6},lblBase),splitLine:{show:false}}],
 yAxis:[
  {type:'value',gridIndex:0,position:'right',offset:1.5,min:45.168,max:49.029,scale:true,axisLine:{show:true,lineStyle:{color:'#000'}},axisTick:{show:true,length:4,lineStyle:{color:'#000'},customValues:priceTicks},axisLabel:Object.assign({customValues:priceTicks,margin:4.5,formatter:v=>v.toFixed(2)},lblBase),splitLine:{show:false}},
  {type:'value',gridIndex:0,position:'right',offset:1.5,min:45.168,max:49.029,scale:true,axisLine:{show:false},axisTick:{show:false},z:20,axisLabel:{customValues:priceTags,margin:4,
    formatter:v=>{const s=v.toFixed(2);return v==47.90?'{k|'+s+'}':v==45.70?'{m|'+s+'}':(v==45.91||v==45.50)?'{p|'+s+'}':'{r|'+s+'}';},
    rich:{k:tagStyle('#000'),m:tagStyle('#e000e0'),p:Object.assign(tagStyle('#ee82ee'),{color:'#f4d0f4'}),r:tagStyle('#ff0000')}},splitLine:{show:false}},
  {type:'value',gridIndex:1,position:'right',offset:1.5,min:-16926,max:-1088,scale:true,axisLine:{show:true,lineStyle:{color:'#000'}},axisTick:{show:true,length:4,lineStyle:{color:'#000'},customValues:pnlTicks},axisLabel:Object.assign({customValues:pnlTicks,margin:4.5,formatter:v=>String(v)},lblBase),splitLine:{show:false}}],
 series:[
  marks('levels red',lev(redLevels),{color:'#d00000',width:1,type:'solid'},0),
  marks('levels magenta',lev(magentaLevels),{color:'#e000e0',width:1,type:'solid'},0),
  marks('levels pink',lev(pinkLevels),{color:'#ee82ee',width:1,type:[16,16]},0),
  marks('levels blue',lev(blueDashLevels),{color:'#0000ff',width:2,type:[6,3.5]},0),
  marks('levels red dash',lev(redDashLevels),{color:'#ff0000',width:3,type:[9,5]},0),
  {name:'price',type:'candlestick',xAxisIndex:0,yAxisIndex:0,data:priceData,barWidth:5,itemStyle:candleStyle,silent:true,z:3},
  {name:'slow average',type:'line',xAxisIndex:0,yAxisIndex:0,data:shift(slowAvg),showSymbol:false,silent:true,lineStyle:{color:'#0000ff',width:1.1},z:4},
  {name:'fast average',type:'line',xAxisIndex:0,yAxisIndex:0,data:shift(fastAvg),showSymbol:false,silent:true,smooth:0.2,lineStyle:{color:'#000',width:2.3},z:5},
  Object.assign(marks('trend lines',seg(trendLines),{color:'#0000ff',width:1,type:'solid'},0),{z:6}),
  Object.assign(marks('order levels',lev(orderLevels),{color:'#0000ff',width:1.5,type:'solid'},0),{z:6}),
  Object.assign(arrows('purple',purpleArrows,'#8000e0'),{z:7}),
  Object.assign(arrows('yellow',yellowArrows,'#ffff00'),{z:7}),
  Object.assign(arrows('orange',orangeArrows,'#ff8000'),{z:7}),
  {name:'equity',type:'candlestick',xAxisIndex:1,yAxisIndex:2,data:pnlData,barWidth:5,itemStyle:candleStyle,silent:true,z:3},
  Object.assign(marks('equity levels',lev(pnlLevels),{color:'#0000ff',width:2,type:[6,3.5]},1),{z:6})
 ],
 graphic:{elements:g}};
chart.setOption(option);
</script></body></html>
